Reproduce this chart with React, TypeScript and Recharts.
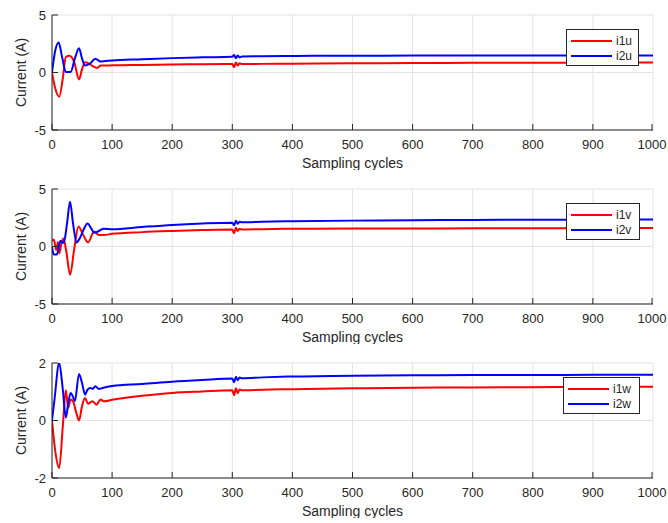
import React from 'react';
import { CartesianGrid, Legend, Line, LineChart, XAxis, YAxis } from 'recharts';

// phase u
const xI1u = [0, 5, 12, 18, 23, 29, 37, 45, 50, 55, 62, 68, 75, 81, 89, 100, 150, 200, 250, 300, 303, 306, 309, 312, 316, 350, 400, 500, 600, 700, 800, 900, 1000];
const i1u = [0, -1.3, -2.1, -0.5, 1.35, 1.45, 0.9, -0.6, 0.3, 0.9, 0.75, 0.55, 0.4, 0.6, 0.6, 0.62, 0.66, 0.7, 0.72, 0.74, 0.45, 0.88, 0.6, 0.8, 0.73, 0.75, 0.77, 0.8, 0.82, 0.84, 0.85, 0.86, 0.86];
const xI2u = [0, 5, 11, 17, 23, 31, 38, 45, 50, 55, 64, 72, 81, 89, 100, 150, 200, 250, 300, 303, 306, 309, 312, 316, 350, 400, 500, 600, 700, 800, 900, 1000];
const i2u = [0, 1.8, 2.6, 1.3, 0.05, 0.05, 1.2, 2.1, 1.2, 0.6, 0.8, 1.2, 0.95, 1.0, 1.05, 1.15, 1.25, 1.32, 1.37, 1.52, 1.25, 1.47, 1.3, 1.39, 1.41, 1.44, 1.46, 1.47, 1.47, 1.48, 1.48, 1.48];

// phase v
const xI1v = [0, 3, 7, 10, 12, 16, 19, 24, 30, 37, 44, 52, 60, 70, 78, 86, 100, 150, 200, 250, 300, 303, 306, 309, 312, 316, 350, 400, 500, 600, 700, 800, 900, 1000];
const i1v = [0.5, 0.6, -0.3, 0.4, -0.6, 0.35, 0.7, -0.5, -2.45, -0.2, 1.75, 1.0, 0.35, 1.3, 1.0, 1.0, 1.1, 1.25, 1.35, 1.43, 1.48, 1.15, 1.62, 1.35, 1.55, 1.48, 1.51, 1.54, 1.56, 1.57, 1.58, 1.59, 1.6, 1.6];
const xI2v = [0, 3, 8, 14, 18, 21, 25, 30, 35, 41, 45, 52, 59, 65, 70, 78, 86, 100, 150, 200, 250, 300, 303, 306, 309, 312, 316, 350, 400, 500, 600, 700, 800, 900, 1000];
const i2v = [0, -0.7, -0.7, 0.5, 0.3, 0.6, 2.0, 3.9, 2.0, 0.35, 0.6, 1.4, 2.0, 1.6, 1.2, 1.35, 1.55, 1.5, 1.7, 1.88, 2.0, 2.07, 1.85, 2.25, 1.97, 2.15, 2.1, 2.15, 2.2, 2.25, 2.28, 2.31, 2.33, 2.34, 2.35];

// phase w
const xI1w = [0, 5, 12, 18, 23, 27, 31, 35, 40, 45, 50, 55, 60, 67, 74, 81, 86, 100, 150, 200, 250, 300, 303, 306, 309, 312, 316, 350, 400, 500, 600, 700, 800, 900, 1000];
const i1w = [0, -1.0, -1.65, -0.2, 1.05, 0.44, 0.73, 0.67, 0.3, 0.0, 0.5, 0.78, 0.58, 0.67, 0.55, 0.73, 0.67, 0.72, 0.86, 0.96, 1.01, 1.05, 0.88, 1.12, 0.95, 1.08, 1.05, 1.07, 1.09, 1.12, 1.14, 1.15, 1.16, 1.17, 1.17];
const xI2w = [0, 4, 12, 18, 23, 27, 31, 35, 38, 45, 50, 55, 59, 64, 68, 72, 78, 84, 100, 150, 200, 250, 300, 303, 306, 309, 312, 316, 350, 400, 500, 600, 700, 800, 900, 1000];
const i2w = [0, 0.7, 2.0, 1.07, 0.1, 0.6, 0.96, 0.82, 0.67, 1.62, 1.3, 0.9, 1.07, 1.13, 1.1, 1.19, 1.1, 1.13, 1.2, 1.27, 1.35, 1.41, 1.46, 1.33, 1.52, 1.4, 1.5, 1.47, 1.5, 1.53, 1.56, 1.57, 1.58, 1.58, 1.59, 1.59];

const xTicks = [0, 100, 200, 300, 400, 500, 600, 700, 800, 900, 1000];
const yTicksUV = [-5, 0, 5];
const yTicksW = [-2, 0, 2];

const FONT = '"Liberation Sans", Arial, Helvetica, sans-serif';
const AXIS = '#262626';
const GRID = '#e3e3e3';
const RED = '#ff0000';
const BLUE = '#0000ff';

const pts = (xs: number[], ys: number[]) => xs.map((x, i) => ({ x, y: ys[i] }));

const XTick = (props: any) => {
  const { x, y, payload } = props;
  return (
    <g>
      <line x1={x} x2={x} y1={y} y2={y - 6} stroke={AXIS} />
      <text x={x} y={y + 19} textAnchor="middle" fill={AXIS} fontSize={13} fontFamily={FONT}>
        {payload.value}
      </text>
    </g>
  );
};

const YTick = (props: any) => {
  const { x, y, payload } = props;
  return (
    <g>
      <line x1={x} x2={x + 6} y1={y} y2={y} stroke={AXIS} />
      <text x={x - 6} y={y + 4.5} textAnchor="end" fill={AXIS} fontSize={13} fontFamily={FONT}>
        {payload.value}
      </text>
    </g>
  );
};

const xTitle = (p: any) => {
  const vb = p.viewBox;
  return (
    <text x={vb.x + vb.width / 2} y={vb.y + 38} textAnchor="middle" fill={AXIS} fontSize={14} fontFamily={FONT}>
      Sampling cycles
    </text>
  );
};

const yTitle = (p: any) => {
  const vb = p.viewBox;
  const cy = vb.y + vb.height / 2;
  return (
    <text x={21} y={cy} transform={`rotate(-90 21 ${cy})`} textAnchor="middle" dominantBaseline="central" fill={AXIS} fontSize={14} fontFamily={FONT}>
      Current (A)
    </text>
  );
};

function LegendBox({ names, width }: { names: string[]; width: number }) {
  const colors = [RED, BLUE];
  return (
    <div
      style={{
        border: `1px solid ${AXIS}`,
        background: '#fff',
        width,
        height: 37,
        boxSizing: 'border-box',
        padding: '3px 0 0 4px',
        fontFamily: FONT,
        fontSize: 12,
        color: AXIS,
      }}
    >
      {names.map((n, i) => (
        <div key={n} style={{ display: 'flex', alignItems: 'center', height: 15 }}>
          <svg width={45} height={4} style={{ display: 'block' }}>
            <line x1={0} x2={41} y1={2} y2={2} stroke={colors[i]} strokeWidth={2} />
          </svg>
          <span>{n}</span>
        </div>
      ))}
    </div>
  );
}

type PanelProps = {
  top: number;
  series: { x: number[]; y: number[] }[];
  names: string[];
  yTicks: number[];
  legend: { left: number; top: number; width: number };
};

function Panel({ top, series, names, yTicks, legend }: PanelProps) {
  const colors = [RED, BLUE];
  return (
    <div style={{ position: 'absolute', left: 0, top }}>
      <LineChart width={668} height={170} margin={{ top: 15, right: 15, left: 0, bottom: 0 }}>
        <CartesianGrid stroke={GRID} />
        <XAxis
          type="number"
          dataKey="x"
          domain={[0, 1000]}
          ticks={xTicks}
          height={40}
          tickSize={0}
          tickMargin={0}
          tick={<XTick />}
          stroke={AXIS}
          label={xTitle}
          allowDataOverflow
        />
        <YAxis
          type="number"
          dataKey="y"
          domain={[yTicks[0], yTicks[yTicks.length - 1]]}
          ticks={yTicks}
          width={52}
          tickSize={0}
          tickMargin={0}
          tick={<YTick />}
          stroke={AXIS}
          label={yTitle}
          allowDataOverflow
        />
        {series.map((s, i) => (
          <Line
            key={names[i]}
            data={pts(s.x, s.y)}
            dataKey="y"
            name={names[i]}
            type="monotone"
            stroke={colors[i]}
            strokeWidth={2}
            dot={false}
            activeDot={false}
            isAnimationActive={false}
          />
        ))}
        <Legend
          layout="vertical"
          align="center"
          verticalAlign="middle"
          content={() => <LegendBox names={names} width={legend.width} />}
          wrapperStyle={{ left: legend.left, top: legend.top, width: legend.width }}
        />
      </LineChart>
    </div>
  );
}

export default function App() {
  return (
    <div style={{ position: 'absolute', left: 0, top: 0, width: 668, height: 523, background: '#fff' }}>
      <Panel
        top={0}
        series={[{ x: xI1u, y: i1u }, { x: xI2u, y: i2u }]}
        names={['i1u', 'i2u']}
        yTicks={yTicksUV}
        legend={{ left: 566, top: 29, width: 73 }}
      />
      <Panel
        top={174}
        series={[{ x: xI1v, y: i1v }, { x: xI2v, y: i2v }]}
        names={['i1v', 'i2v']}
        yTicks={yTicksUV}
        legend={{ left: 566, top: 29, width: 74 }}
      />
      <Panel
        top={348}
        series={[{ x: xI1w, y: i1w }, { x: xI2w, y: i2w }]}
        names={['i1w', 'i2w']}
        yTicks={yTicksW}
        legend={{ left: 563, top: 29, width: 77 }}
      />
    </div>
  );
}
